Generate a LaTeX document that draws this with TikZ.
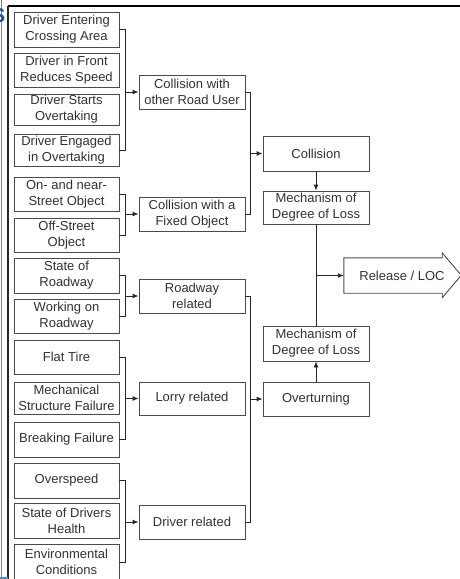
\documentclass[tikz,border=0pt]{standalone}
\usepackage{fontspec}
\setmainfont{Liberation Sans}
\usetikzlibrary{arrows.meta}
\definecolor{ln}{RGB}{40,40,40}
\definecolor{bx}{RGB}{75,75,75}
\definecolor{tx}{RGB}{50,50,50}
\definecolor{sblue}{RGB}{30,80,140}
\begin{document}
\begin{tikzpicture}[x=1pt,y=-1pt,
  box/.style={draw=bx, line width=0.9pt, fill=white, inner sep=0pt, align=center, text=tx,
    font=\fontsize{13}{16}\selectfont},
  lbox/.style={box, minimum width=105},
  mbox/.style={box, minimum width=106},
  conn/.style={draw=ln, line width=0.9pt},
  arr/.style={conn, -{Latex[length=6pt,width=5pt]}}]
\useasboundingbox (0,0) rectangle (460,579);
% frame
\draw[line width=2pt, black] (8,6) -- (461,6);
\draw[line width=1.3pt, ln] (8,6) -- (8,580);
\draw[line width=0.8pt, gray] (1,0) -- (1,577);
\draw[line width=1.5pt, sblue!70] (0,578) -- (8,578);
\node[anchor=east, inner sep=0pt, text=sblue, font=\fontsize{20}{20}\bfseries\selectfont] (sg) at (5.5,16) {S};

% left boxes
\node[lbox, minimum height=35] (b1) at (66.5,29.5) {Driver Entering\\Crossing Area};
\node[lbox, minimum height=34] (b2) at (66.5,70) {Driver in Front\\Reduces Speed};
\node[lbox, minimum height=31] (b3) at (66.5,109.5) {Driver Starts\\Overtaking};
\node[lbox, minimum height=32] (b4) at (66.5,150) {Driver Engaged\\in Overtaking};
\node[lbox, minimum height=34] (b5) at (66.5,194) {On- and near-\\Street Object};
\node[lbox, minimum height=34] (b6) at (66.5,235) {Off-Street\\Object};
\node[lbox, minimum height=35] (b7) at (66.5,275.5) {State of\\Roadway};
\node[lbox, minimum height=34] (b8) at (66.5,316) {Working on\\Roadway};
\node[lbox, minimum height=34] (b9) at (66.5,357) {Flat Tire};
\node[lbox, minimum height=32] (b10) at (66.5,398) {Mechanical\\Structure Failure};
\node[lbox, minimum height=35] (b11) at (66.5,439.5) {Breaking Failure};
\node[lbox, minimum height=35] (b12) at (66.5,480.5) {Overspeed};
\node[lbox, minimum height=35] (b13) at (66.5,520.5) {State of Drivers\\Health};
\node[lbox, minimum height=36] (b14) at (66.5,562) {Environmental\\Conditions};

% middle boxes
\node[mbox, minimum height=34] (m1) at (192,92) {Collision with\\other Road User};
\node[mbox, minimum height=34] (m2) at (192,214) {Collision with a\\Fixed Object};
\node[mbox, minimum height=34] (m3) at (192,296) {Roadway\\related};
\node[mbox, minimum height=33] (m4) at (192,398.5) {Lorry related};
\node[mbox, minimum height=34] (m5) at (192,522) {Driver related};

% right boxes
\node[mbox, minimum height=35] (col) at (316,153.5) {Collision};
\node[mbox, minimum height=33] (mech1) at (316,207.5) {Mechanism of\\Degree of Loss};
\node[mbox, minimum height=35] (mech2) at (316,343.5) {Mechanism of\\Degree of Loss};
\node[mbox, minimum height=34] (ovt) at (316,399) {Overturning};

% release arrow
\node[inner sep=0pt, minimum width=98, minimum height=35] (rel) at (393,275.5) {};
\draw[draw=bx, line width=0.9pt, fill=white] (rel.north west) -- (rel.north east) -- ++(0,-5) -- ++(19,22.5)
  -- ++(-19,22.5) -- (rel.south east) -- (rel.south west) -- cycle;
\node[text=tx, font=\fontsize{13}{16}\selectfont, inner sep=0pt] (reltxt) at (402,275.5) {Release / LOC};

% brackets level 1
\coordinate (k1) at (125,0);
\draw[conn] (b1.east) -- (b1.east -| k1) -- (b4.east -| k1) -- (b4.east);
\draw[arr] (m1.west -| k1) -- (m1.west);
\draw[conn] (b5.east) -- (b5.east -| k1) -- (b6.east -| k1) -- (b6.east);
\draw[arr] (m2.west -| k1) -- (m2.west);
\draw[conn] (b7.east) -- (b7.east -| k1) -- (b8.east -| k1) -- (b8.east);
\draw[arr] (m3.west -| k1) -- (m3.west);
\draw[conn] (b9.east) -- (b9.east -| k1) -- (b11.east -| k1) -- (b11.east);
\draw[arr] (m4.west -| k1) -- (m4.west);
\draw[conn] (b12.east) -- (b12.east -| k1) -- (b14.east -| k1) -- (b14.east);
\draw[arr] (m5.west -| k1) -- (m5.west);

% brackets level 2
\coordinate (k2) at (250,0);
\draw[conn] (m1.east) -- (m1.east -| k2) -- (m2.east -| k2) -- (m2.east);
\draw[arr] (col.west -| k2) -- (col.west);
\draw[conn] (m3.east) -- (m3.east -| k2) -- (m5.east -| k2) -- (m5.east);
\draw[arr] (ovt.west -| k2) -- (ovt.west);

% right column
\draw[arr] (col.south) -- (mech1.north);
\draw[arr] (ovt.north) -- (mech2.south);
\draw[conn] (mech1.south) -- (mech2.north);
\draw[arr] (mech1.south |- rel.west) -- (rel.west);
\end{tikzpicture}
\end{document}
